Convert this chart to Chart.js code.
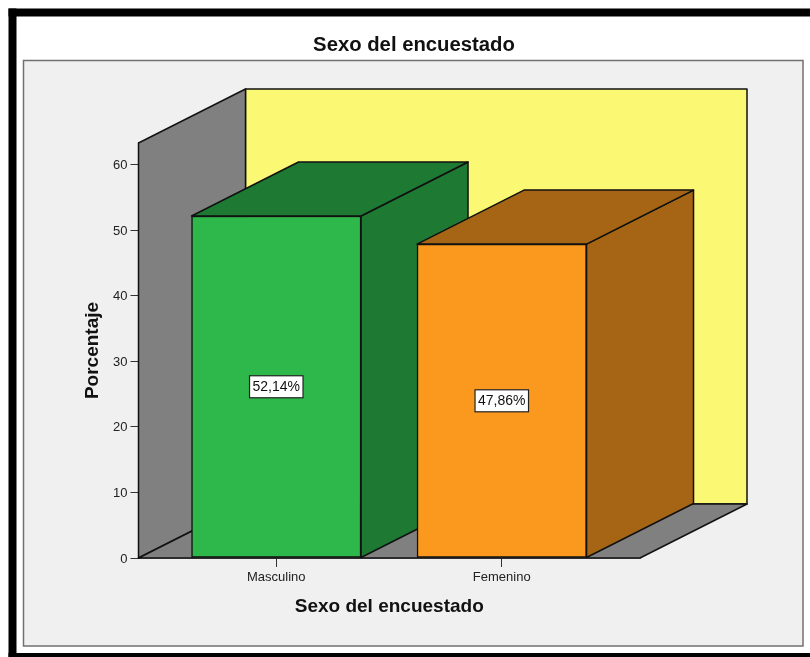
<!DOCTYPE html>
<html>
<head>
<meta charset="utf-8">
<style>html,body{margin:0;padding:0;background:#fff}canvas{display:block}</style>
<script src="https://cdn.jsdelivr.net/npm/chart.js@4"></script>
</head>
<body>
<canvas id="c" width="810" height="657"></canvas>
<script>
const categories = ["Masculino", "Femenino"];
const percentages = [52.14, 47.86];
const frontColors = ["#2EB84C", "#FB991E"];
const sideColors = ["#1E7A32", "#A56514"];
const yTickStep = 10;
const yMax = 63.28;
const xMin = -0.611;
const xMax = 1.613;
const depthX = 107;
const depthY = 54;
const fontName = '"Liberation Sans", Arial, sans-serif';

function poly(ctx, pts, fill, stroke) {
  ctx.beginPath();
  pts.forEach((p, i) => i ? ctx.lineTo(p[0], p[1]) : ctx.moveTo(p[0], p[1]));
  ctx.closePath();
  ctx.fillStyle = fill;
  ctx.fill();
  ctx.lineWidth = 1.5;
  ctx.lineJoin = 'round';
  ctx.strokeStyle = stroke || '#111';
  ctx.stroke();
}

const scene = {
  id: 'scene',
  beforeDraw(chart) {
    const ctx = chart.ctx;
    ctx.save();
    ctx.fillStyle = '#fff';
    ctx.fillRect(0, 0, 810, 657);
    ctx.fillStyle = '#000';
    ctx.fillRect(8.5, 8.5, 802, 8);
    ctx.fillRect(8.5, 8.5, 8, 649);
    ctx.fillRect(8.5, 653, 802, 4);
    ctx.fillStyle = '#F0F0F0';
    ctx.fillRect(23.5, 60.5, 779.5, 585.5);
    ctx.strokeStyle = '#707070';
    ctx.lineWidth = 1.5;
    ctx.strokeRect(23.5, 60.5, 779.5, 585.5);
    ctx.restore();
  },
  beforeDatasetsDraw(chart) {
    const ctx = chart.ctx;
    const a = chart.chartArea;
    const L = a.left, R = a.right, T = a.top, B = a.bottom;
    ctx.save();
    poly(ctx, [[L+depthX,T-depthY],[R+depthX,T-depthY],[R+depthX,B-depthY],[L+depthX,B-depthY]], '#FBF873');
    poly(ctx, [[L,B],[L,T],[L+depthX,T-depthY],[L+depthX,B-depthY]], '#808080');
    poly(ctx, [[L,B],[L+depthX,B-depthY],[R+depthX,B-depthY],[R,B]], '#808080');
    chart.getDatasetMeta(0).data.forEach((el, i) => {
      const x1 = el.x - el.width/2, x2 = el.x + el.width/2, top = el.y, base = el.base;
      poly(ctx, [[x2,base],[x2,top],[x2+depthX,top-depthY],[x2+depthX,base-depthY]], sideColors[i]);
      poly(ctx, [[x1,top],[x1+depthX,top-depthY],[x2+depthX,top-depthY],[x2,top]], sideColors[i]);
    });
    ctx.restore();
  },
  afterDatasetsDraw(chart) {
    const ctx = chart.ctx;
    ctx.save();
    ctx.font = '14px ' + fontName;
    ctx.textAlign = 'center';
    ctx.textBaseline = 'middle';
    chart.getDatasetMeta(0).data.forEach((el, i) => {
      const txt = percentages[i].toFixed(2).replace('.', ',') + '%';
      const w = ctx.measureText(txt).width + 6;
      const cy = (el.y + el.base) / 2;
      ctx.fillStyle = '#fff';
      ctx.fillRect(el.x - w/2, cy - 11, w, 22);
      ctx.strokeStyle = '#222';
      ctx.lineWidth = 1.2;
      ctx.strokeRect(el.x - w/2, cy - 11, w, 22);
      ctx.fillStyle = '#111';
      ctx.fillText(txt, el.x, cy + 0.5);
    });
    ctx.restore();
  }
};

new Chart(document.getElementById('c'), {
  type: 'bar',
  data: {
    datasets: [{
      label: 'Porcentaje',
      data: percentages.map((v, i) => ({ x: i, y: v })),
      backgroundColor: frontColors,
      borderColor: '#111',
      borderWidth: 1.5,
      borderSkipped: false,
      barThickness: 169.5
    }]
  },
  options: {
    responsive: false,
    animation: false,
    events: [],
    layout: { padding: { left: 18, right: 0, top: 0, bottom: 0 } },
    plugins: {
      legend: { display: false },
      tooltip: { enabled: false },
      title: {
        display: true,
        text: 'Sexo del encuestado',
        color: '#111',
        font: { family: fontName, size: 20.3, weight: 'bold', lineHeight: 1.2 },
        padding: { top: 33, bottom: 85.6 }
      }
    },
    scales: {
      x: {
        type: 'linear',
        offset: false,
        min: xMin,
        max: xMax,
        afterFit(s) { s.height = 99; },
        grid: { display: true, offset: false, drawOnChartArea: false, drawTicks: true, tickLength: 9, color: '#333' },
        border: { display: true, color: '#111', width: 1.5 },
        ticks: {
          stepSize: 1,
          includeBounds: false,
          autoSkip: false,
          maxRotation: 0,
          padding: 3,
          color: '#222',
          font: { family: fontName, size: 13 },
          callback: v => categories[v]
        },
        title: {
          display: true,
          text: 'Sexo del encuestado',
          color: '#111',
          font: { family: fontName, size: 19, weight: 'bold', lineHeight: 1.2 },
          padding: { top: 0, bottom: 39 }
        }
      },
      y: {
        position: 'left',
        min: 0,
        max: yMax,
        afterFit(s) { s.width = 120.5; },
        grid: { display: true, drawOnChartArea: false, drawTicks: true, tickLength: 8, color: '#333' },
        border: { display: true, color: '#111', width: 1.5 },
        ticks: {
          stepSize: yTickStep,
          includeBounds: false,
          padding: 3,
          labelOffset: 1,
          color: '#222',
          font: { family: fontName, size: 13 }
        },
        title: {
          display: true,
          text: 'Porcentaje',
          color: '#111',
          font: { family: fontName, size: 19, weight: 'bold', lineHeight: 1.2 },
          padding: { top: 63, bottom: 0 }
        }
      },
      rightGap: {
        position: 'right',
        afterFit(s) { s.width = 170; },
        grid: { display: false },
        border: { display: false },
        ticks: { display: false }
      }
    }
  },
  plugins: [scene]
});
</script>
</body>
</html>
